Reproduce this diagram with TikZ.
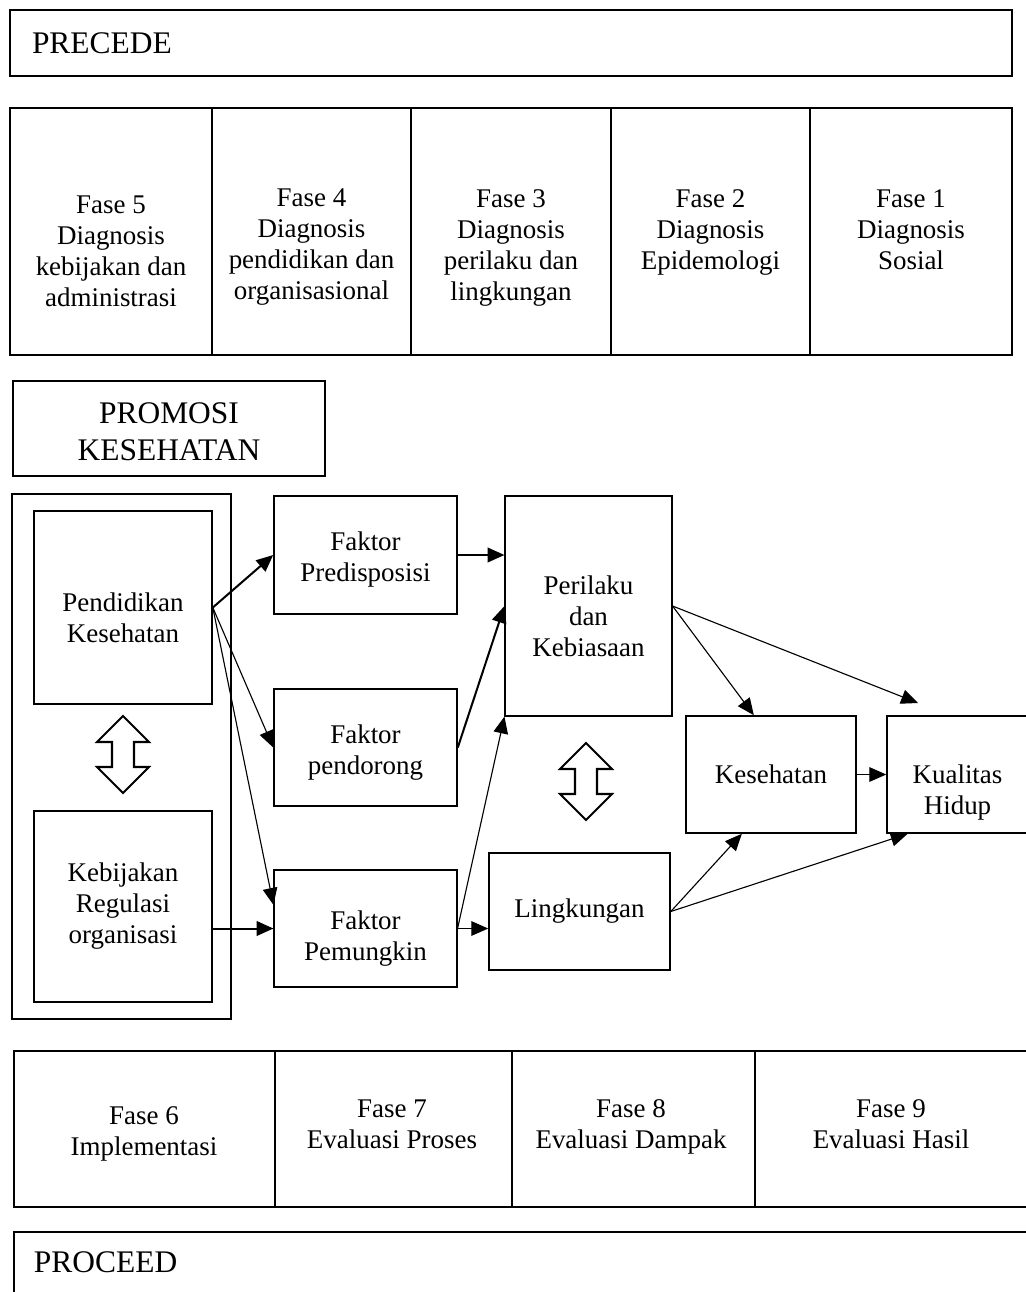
\documentclass[tikz,border=0pt]{standalone}
\usepackage{fontspec}
\setmainfont{Liberation Serif}
\usetikzlibrary{arrows.meta,calc,positioning}
\newcommand{\px}{0.445pt}
\newcommand{\bodyfont}{\fontsize{12}{13.8}\selectfont}
\newcommand{\headfont}{\fontsize{14}{16.5}\selectfont}

\begin{document}
\begin{tikzpicture}[
    x=\px, y=-\px,
    box/.style={draw, line width=0.7pt, inner sep=0, align=center, font=\bodyfont},
    thinbox/.style={box, line width=0.5pt},
    dims/.style 2 args={minimum width=#1*\px, minimum height=#2*\px},
    txt/.style={inner sep=0, align=center, font=\bodyfont},
    head/.style={inner sep=0, align=left, font=\headfont},
    link/.style={-{Triangle[length=7.5pt,width=6.5pt]}, line width=0.5pt},
    heavy/.style={link, line width=0.9pt},
    updown/.pic={
        \draw[line width=0.9pt, line join=miter]
            (0,-38.5) -- (26,-12.5) -- (11,-12.5) -- (11,12.5) -- (26,12.5)
            -- (0,38.5) -- (-26,12.5) -- (-11,12.5) -- (-11,-12.5) -- (-26,-12.5) -- cycle;
    }]
\useasboundingbox (0,0) rectangle (1026,1292);
\clip (0,0) rectangle (1026,1292);

% precede
\node[box, dims={1002}{66}, text width=958*\px, align=left, font=\headfont] (precede) at (511,43) {PRECEDE};

\node[box, dims={202}{247}] (fase5) at (111,231.5) {};
\node[box, dims={199}{247}] (fase4) at (311.5,231.5) {};
\node[box, dims={200}{247}] (fase3) at (511,231.5) {};
\node[box, dims={199}{247}] (fase2) at (710.5,231.5) {};
\node[box, dims={202}{247}] (fase1) at (911,231.5) {};
\node[txt] (fase5txt) at (111,251) {Fase 5\\Diagnosis\\kebijakan dan\\administrasi};
\node[txt] (fase4txt) at (311.5,247.5) {Fase 4\\Diagnosis\\pendidikan dan\\organisasional};
\node[txt] (fase3txt) at (511,247.5) {Fase 3\\Diagnosis\\perilaku dan\\lingkungan};
\node[txt] (fase2txt) at (710.5,232) {Fase 2\\Diagnosis\\Epidemologi};
\node[txt] (fase1txt) at (911,230) {Fase 1\\Diagnosis\\Sosial};

% promosi kesehatan
\node[box, dims={312}{95}] (promosi) at (169,428.5) {};
\node[head, align=center] (promositxt) at (169,432) {PROMOSI\\KESEHATAN};
\node[box, dims={219}{525}] (promosigrp) at (121.5,756.5) {};
\node[box, dims={178}{193}] (pendidikan) at (123,607.5) {};
\node[txt] (pendidikantxt) at (123,617.5) {Pendidikan\\Kesehatan};
\node[box, dims={178}{191}] (kebijakan) at (123,906.5) {Kebijakan\\Regulasi\\organisasi};
\pic at (123,754.5) {updown};

\node[box, dims={183}{118}] (predisposisi) at (365.5,555) {};
\node[txt] (predisposisitxt) at (365.5,560) {Faktor\\Predisposisi};
\node[box, dims={183}{117}] (pendorong) at (365.5,747.5) {};
\node[txt] (pendorongtxt) at (365.5,752.5) {Faktor\\pendorong};
\node[thinbox, dims={183}{117}] (pemungkin) at (365.5,928.5) {};
\node[txt] (pemungkintxt) at (365.5,939) {Faktor\\Pemungkin};
\node[thinbox, dims={167}{220}] (perilaku) at (588.5,606) {};
\node[txt] (perilakutxt) at (588.5,616) {Perilaku\\dan\\Kebiasaan};
\pic at (586,781.5) {updown};
\node[box, dims={181}{117}] (lingkungan) at (579.5,911.5) {Lingkungan};
\node[box, dims={170}{117}] (kesehatan) at (771,774.5) {Kesehatan};
\node[box, dims={141}{117}] (kualitas) at (957.5,774.5) {};
\node[txt] (kualitastxt) at (957.5,793) {Kualitas\\Hidup};
\coordinate (abovekualitas) at (918,703);

\draw[heavy] (pendidikan.east) -- (predisposisi.west);
\draw[link] (pendidikan.east) -- (pendorong.west);
\draw[link] (pendidikan.east) -- ($(pemungkin.north west)!0.3!(pemungkin.south west)$);
\draw[heavy] (kebijakan.east |- pemungkin.west) -- (pemungkin.west);
\draw[heavy] (predisposisi.east) -- (predisposisi.east -| perilaku.west);
\draw[heavy] (pendorong.east) -- (perilaku.west);
\draw[link] (pemungkin.east) -- (perilaku.south west);
\draw[link] (pemungkin.east) -- (pemungkin.east -| lingkungan.west);
\draw[link] (perilaku.east) -- ($(kesehatan.north west)!0.4!(kesehatan.north east)$);
\draw[link] (perilaku.east) -- (abovekualitas);
\draw[link] (kesehatan.east) -- (kualitas.west);
\draw[link] (lingkungan.east) -- ($(kesehatan.south west)!0.33!(kesehatan.south east)$);
\draw[link] (lingkungan.east) -- ($(kualitas.south west)!0.15!(kualitas.south east)$);

% proceed
\node[box, dims={261}{156}] (fase6) at (144.5,1129) {};
\node[box, dims={237}{156}] (fase7) at (393.5,1129) {};
\node[box, dims={243}{156}] (fase8) at (633.5,1129) {};
\node[box, dims={274}{156}] (fase9) at (892,1129) {};
\node[txt] (fase6txt) at (144,1134) {Fase 6\\Implementasi};
\node[txt] (fase7txt) at (392,1124) {Fase 7\\Evaluasi Proses};
\node[txt] (fase8txt) at (631,1127) {Fase 8\\Evaluasi Dampak};
\node[txt] (fase9txt) at (891,1124) {Fase 9\\Evaluasi Hasil};
\node[box, dims={1030}{90}] (proceed) at (529,1277) {};
\node[head, anchor=west] (proceedtxt) at (33.5,1262.5) {PROCEED};

\end{tikzpicture}
\end{document}
